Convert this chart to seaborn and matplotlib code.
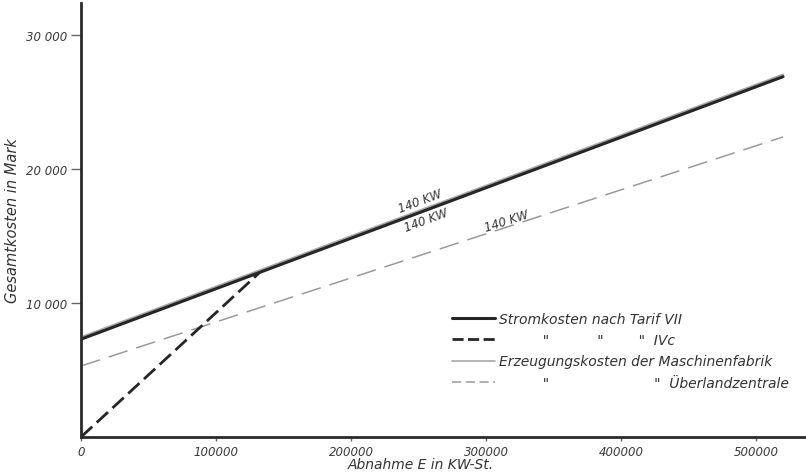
import matplotlib
matplotlib.use("Agg")
import matplotlib.pyplot as plt
import seaborn as sns
import pandas as pd

# ---- data ----
x_vii = [0, 520000]
y_vii = [7300, 26900]

x_ivc = [0, 132000]
y_ivc = [0, 12250]

x_masch = [0, 520000]
y_masch = [7450, 27050]

x_ueber = [0, 520000]
y_ueber = [5300, 22400]

labels = ["Stromkosten nach Tarif VII",
          '          "           "        "  IVc',
          "Erzeugungskosten der Maschinenfabrik",
          '          "                        "  Überlandzentrale']

kw_text = "140 KW"
kw_pos = [(251000, 17650), (256000, 16250), (315000, 16150)]

xticks = [0, 100000, 200000, 300000, 400000, 500000]
xticklabels = ["0", "100000", "200000", "300000", "400000", "500000"]
yticks = [10000, 20000, 30000]
yticklabels = ["10 000", "20 000", "30 000"]

sns.set_theme(style="white")
plt.rcParams['font.family'] = ['DejaVu Sans']
plt.rcParams['font.style'] = 'italic'

fig = plt.figure(figsize=(8.06, 4.77), dpi=100)
ax = fig.add_axes([81/806, (477-438)/477, (806-81)/806, (438-4)/477])

df_ueber = pd.DataFrame({"x": x_ueber, "y": y_ueber})
df_masch = pd.DataFrame({"x": x_masch, "y": y_masch})
df_vii = pd.DataFrame({"x": x_vii, "y": y_vii})
df_ivc = pd.DataFrame({"x": x_ivc, "y": y_ivc})

sns.lineplot(data=df_ueber, x="x", y="y", ax=ax, color="#9a9a9a", lw=1.1,
             linestyle=(0, (13, 6)))
sns.lineplot(data=df_masch, x="x", y="y", ax=ax, color="#a8a8a8", lw=1.6)
sns.lineplot(data=df_vii, x="x", y="y", ax=ax, color="#262626", lw=2.2)
sns.lineplot(data=df_ivc, x="x", y="y", ax=ax, color="#262626", lw=2.0,
             linestyle=(0, (5.5, 2.2)))

ax.set_xlim(0, 537000)
ax.set_ylim(0, 32400)

for sp in ["top", "right"]:
    ax.spines[sp].set_visible(False)
for sp in ["left", "bottom"]:
    ax.spines[sp].set_color("#2a2a2a")
    ax.spines[sp].set_linewidth(2.0)

ax.set_xticks(xticks)
ax.set_xticklabels(xticklabels)
ax.set_yticks(yticks)
ax.set_yticklabels(yticklabels)
ax.tick_params(axis="y", direction="out", length=7, width=1, color="#666666",
               pad=3, labelsize=8.5, labelcolor="#3a3a3a", left=True)
ax.tick_params(axis="x", direction="out", length=3, width=1, color="#666666",
               pad=3, labelsize=8.5, labelcolor="#3a3a3a", bottom=True)

ax.set_xlabel("Abnahme E in KW-St.", fontsize=10, color="#333333", labelpad=0)
ax.set_ylabel("Gesamtkosten in Mark", fontsize=10.5, color="#333333", labelpad=4)
ax.xaxis.set_label_coords((421-81)/725, -0.045)

rots = [20.5, 20.5, 18]
for (px, py), r in zip(kw_pos, rots):
    ax.text(px, py, kw_text, fontsize=8.5, color="#333333", rotation=r,
            ha="center", va="center", rotation_mode="anchor")

handles = [
    plt.Line2D([], [], color="#262626", lw=2.2),
    plt.Line2D([], [], color="#262626", lw=2.0, linestyle=(0, (4, 1.6))),
    plt.Line2D([], [], color="#a8a8a8", lw=1.2),
    plt.Line2D([], [], color="#9a9a9a", lw=1.1, linestyle=(0, (6, 3))),
]
leg = fig.legend(handles, labels, loc="upper left",
                 bbox_to_anchor=(452/806, 1-313/477), bbox_transform=fig.transFigure,
                 frameon=False, fontsize=10, handlelength=3.1, handletextpad=0.3,
                 borderpad=0, borderaxespad=0, labelspacing=0.52)
for t in leg.get_texts():
    t.set_color("#333333")

fig.savefig("out.png", dpi=100)
